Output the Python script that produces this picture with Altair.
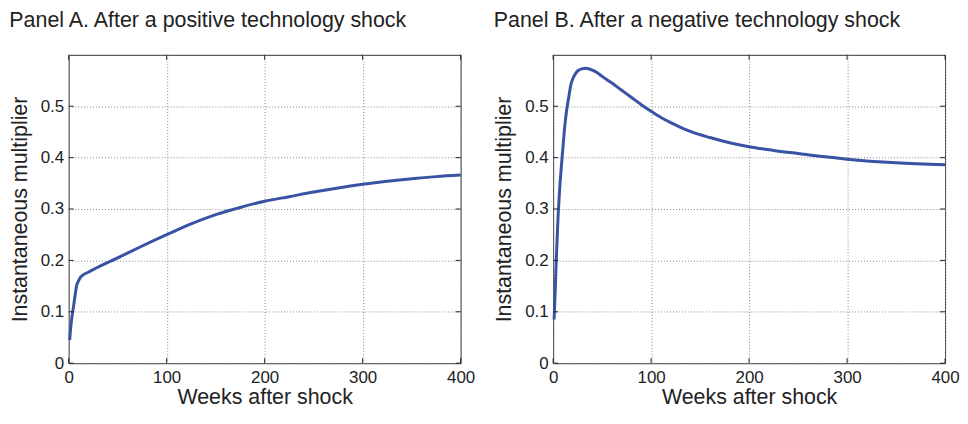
import altair as alt
import pandas as pd

# ---- data ----
weeks_a = [1, 2, 3, 4, 5, 6, 7, 8, 10, 12, 15, 20, 25, 50, 75, 100, 125, 150, 175, 200, 225, 250,
           275, 300, 325, 350, 375, 400]
mult_a = [0.045, 0.068, 0.085, 0.099, 0.111, 0.125, 0.138, 0.150, 0.160, 0.167, 0.172, 0.177, 0.182,
          0.205, 0.228, 0.250, 0.271, 0.289, 0.303, 0.315, 0.324, 0.333, 0.341, 0.348, 0.354, 0.359,
          0.363, 0.366]

weeks_b = [1, 2, 3, 4, 5, 6, 7, 8, 10, 12, 14, 16, 18, 20, 23, 26, 30, 33, 36, 40, 45, 50, 60, 70, 80, 90,
           100, 110, 120, 130, 140, 160, 180, 200, 225, 250, 275, 300, 350, 400]
mult_b = [0.085, 0.135, 0.190, 0.238, 0.284, 0.318, 0.349, 0.373, 0.420, 0.463, 0.495, 0.518, 0.541, 0.553,
          0.564, 0.570, 0.573, 0.574, 0.573, 0.570, 0.565, 0.558, 0.545, 0.531, 0.517, 0.503,
          0.490, 0.478, 0.468, 0.459, 0.451, 0.439, 0.429, 0.421, 0.414, 0.408, 0.402, 0.397, 0.390, 0.386]

x_ticks = [0, 100, 200, 300, 400]
y_ticks = [0, 0.1, 0.2, 0.3, 0.4, 0.5]
x_domain = [0, 400]
y_domain = [0, 0.6]

title_a = "Panel A. After a positive technology shock"
title_b = "Panel B. After a negative technology shock"
x_title = "Weeks after shock"
y_title = "Instantaneous multiplier"

# ---- style ----
W, H = 394, 310
TICK = 5
LINE_COLOR = "#3953a4"
INK = "#222222"
FONT = "Liberation Sans"


def panel(weeks, mult, title):
    df = pd.DataFrame({"w": weeks, "m": mult})
    xs = alt.Scale(domain=x_domain, nice=False, zero=False)
    ys = alt.Scale(domain=y_domain, nice=False)
    xaxis = alt.Axis(values=x_ticks, title=x_title, grid=True, ticks=False, domain=False,
                     labelPadding=6, titlePadding=2, format="d", labelFlush=False)
    yaxis = alt.Axis(values=y_ticks, title=y_title, grid=True, ticks=False, domain=False,
                     labelPadding=5, titlePadding=9, format="~g", labelFlush=False)
    line = alt.Chart(df).mark_line(color=LINE_COLOR, strokeWidth=3, interpolate="monotone").encode(
        x=alt.X("w:Q", scale=xs, axis=xaxis),
        y=alt.Y("m:Q", scale=ys, axis=yaxis),
    )
    xt = pd.DataFrame({"v": x_ticks})
    yt = pd.DataFrame({"v": y_ticks})
    bot = alt.Chart(xt).mark_rule(color=INK, strokeWidth=1).encode(
        x=alt.X("v:Q", scale=xs, axis=xaxis), y=alt.value(H), y2=alt.value(H - TICK))
    top = alt.Chart(xt).mark_rule(color=INK, strokeWidth=1).encode(
        x=alt.X("v:Q", scale=xs, axis=xaxis), y=alt.value(0), y2=alt.value(TICK))
    lft = alt.Chart(yt).mark_rule(color=INK, strokeWidth=1).encode(
        y=alt.Y("v:Q", scale=ys, axis=yaxis), x=alt.value(0), x2=alt.value(TICK))
    rgt = alt.Chart(yt).mark_rule(color=INK, strokeWidth=1).encode(
        y=alt.Y("v:Q", scale=ys, axis=yaxis), x=alt.value(W - TICK), x2=alt.value(W))
    return alt.layer(line, bot, top, lft, rgt).properties(
        width=W, height=H,
        title=alt.TitleParams(title, anchor="start", frame="bounds", fontSize=21.5, font=FONT,
                              fontWeight="normal", color=INK, offset=23),
    )


chart = alt.hconcat(panel(weeks_a, mult_a, title_a), panel(weeks_b, mult_b, title_b), spacing=17).configure(
    padding={"left": 0, "top": 0, "right": 0, "bottom": 0},
    background="white",
).configure_view(stroke="#333333", strokeWidth=1).configure_axis(
    labelFont=FONT, labelFontSize=17, labelColor=INK,
    titleFont=FONT, titleFontSize=21.5, titleFontWeight="normal", titleColor=INK,
    gridColor="#888888", gridDash=[1, 2], gridWidth=1,
)

chart.save("out.html", embed_options={"renderer": "svg", "actions": False})
